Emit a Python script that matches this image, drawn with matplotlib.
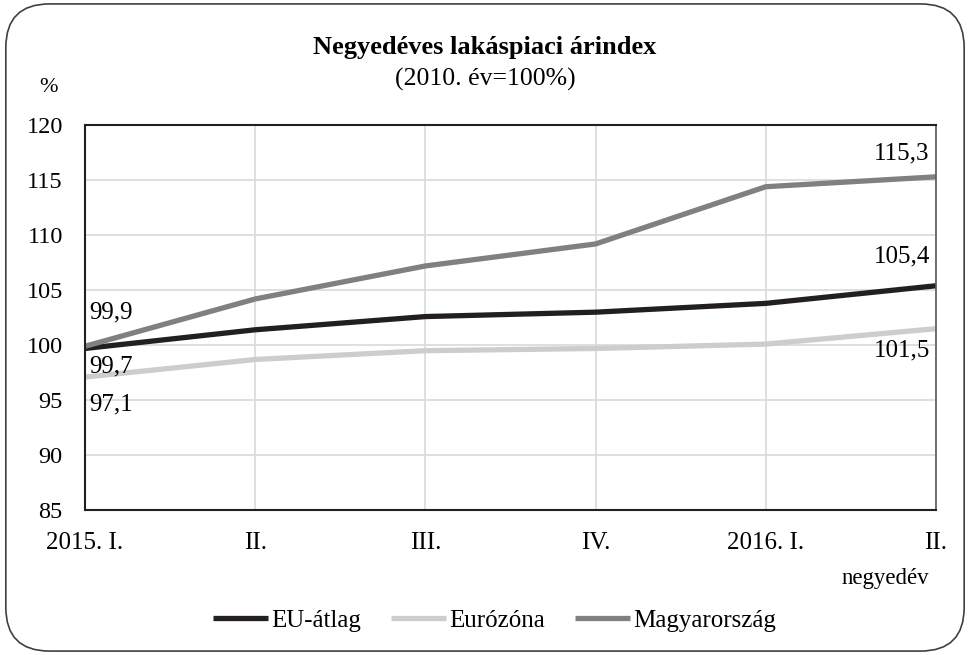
import matplotlib.pyplot as plt
from matplotlib.patches import FancyBboxPatch

plt.rcParams['font.family'] = ['Liberation Serif', 'DejaVu Serif']

quarters = ['2015. I.', 'II.', 'III.', 'IV.', '2016. I.', 'II.']
eu_atlag = [99.7, 101.4, 102.6, 103.0, 103.8, 105.4]
eurozona = [97.1, 98.7, 99.5, 99.7, 100.1, 101.5]
magyarorszag = [99.9, 104.2, 107.2, 109.2, 114.4, 115.3]
y_ticks = [85, 90, 95, 100, 105, 110, 115, 120]

fig = plt.figure(figsize=(9.7, 6.55), dpi=100)
ax = fig.add_axes([0.0876, 0.221, 0.8773, 0.588])

x = list(range(len(quarters)))
ax.plot(x, eu_atlag, color='#231f20', lw=3.8, label='EU-átlag', solid_capstyle='butt')
ax.plot(x, eurozona, color='#cdcdcd', lw=3.8, label='Eurózóna', solid_capstyle='butt')
ax.plot(x, magyarorszag, color='#808080', lw=3.8, label='Magyarország', solid_capstyle='butt')

ax.set_xlim(0, len(quarters) - 1)
ax.set_ylim(85, 120)
ax.set_yticks(y_ticks)
ax.set_xticks(x)
ax.set_xticklabels(quarters, fontsize=18)
ax.tick_params(axis='y', labelsize=17.5, length=0, pad=16)
ax.tick_params(axis='x', length=0, pad=16)
ax.grid(True, color='#d9d9d9', lw=1.2)
ax.set_axisbelow(True)
for s in ['left', 'bottom', 'top']:
    ax.spines[s].set_color('#231f20')
    ax.spines[s].set_linewidth(1.5)
ax.spines['right'].set_color('#595959')
ax.spines['right'].set_linewidth(1.2)

# data labels
lab = dict(fontsize=18, va='center', textcoords='offset points')
ax.annotate('99,9', (0, magyarorszag[0]), xytext=(3, 24), ha='left', **lab)
ax.annotate('99,7', (0, eu_atlag[0]), xytext=(3, -13), ha='left', **lab)
ax.annotate('97,1', (0, eurozona[0]), xytext=(3, -20), ha='left', **lab)
ax.annotate('115,3', (5, magyarorszag[-1]), xytext=(-5, 17), ha='right', **lab)
ax.annotate('105,4', (5, eu_atlag[-1]), xytext=(-4, 21), ha='right', **lab)
ax.annotate('101,5', (5, eurozona[-1]), xytext=(-4, -16), ha='right', **lab)

fig.text(0.5, 0.927, 'Negyedéves lakáspiaci árindex', ha='center', va='center',
         fontsize=19, fontweight='bold')
fig.text(0.5, 0.878, '(2010. év=100%)', ha='center', va='center', fontsize=18.5)
fig.text(0.05, 0.866, '%', ha='center', va='center', fontsize=16)
fig.text(0.913, 0.117, 'negyedév', ha='center', va='center', fontsize=16.5)

fig.legend(loc='center', bbox_to_anchor=(0.51, 0.052), ncol=3, frameon=False,
           fontsize=18, handlelength=2.2, handletextpad=0.12, columnspacing=1.2)

border = FancyBboxPatch((0.006, 0.006), 0.988, 0.988, boxstyle='round,pad=0,rounding_size=0.045',
                        transform=fig.transFigure, fill=False, edgecolor='#404040', lw=1.2,
                        mutation_aspect=970 / 655)
fig.patches.append(border)

fig.savefig('out.png', dpi=100)
